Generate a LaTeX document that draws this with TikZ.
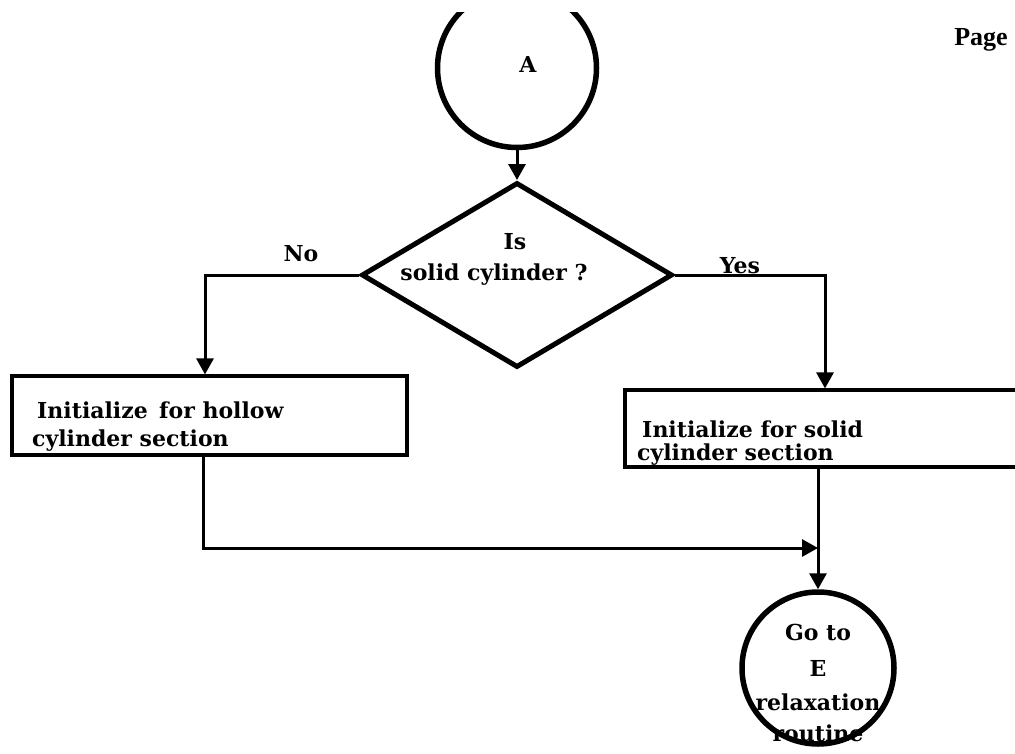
\documentclass[tikz,border=0pt]{standalone}
\usepackage{fontspec}
\setmainfont{DejaVu Serif}
\newfontfamily\pagefont{Liberation Serif}
\usetikzlibrary{shapes.geometric,arrows.meta}
\begin{document}
\begin{tikzpicture}[x=1pt,y=-1pt,
  every node/.style={font=\fontsize{22}{26}\selectfont\bfseries},
  ring/.style={draw,circle,line width=5.5pt,inner sep=0pt},
  decision/.style={draw,diamond,line width=5pt,inner sep=0pt},
  procbox/.style={draw,rectangle,line width=3.2pt,inner sep=0pt},
  txt/.style={inner sep=0pt,align=left},
  flow/.style={line width=3pt,-{Triangle[width=17pt,length=16pt]}}]
\useasboundingbox (0,0) rectangle (1015,753);
\clip (0,0) rectangle (1015,753);

% connector circle at the top, cut by the upper edge of the sheet
\begin{scope}
  \clip (0,12) rectangle (1015,753);
  \node[ring,minimum size=159pt] (A) at (517,68) {};
\end{scope}
\node[txt] (Alabel) at (528,64) {A};

% decision
\node[decision,minimum width=311pt,minimum height=185pt] (D) at (517,275) {};
\node[txt] (Dis) at (515,242) {Is};
\node[txt] (Dq) at (494,275) {solid cylinder ?};
\node[txt] (No) at (301,254) {No};
\node[txt] (Yes) at (740,266) {Yes};

% process boxes
\node[procbox,minimum width=395pt,minimum height=79pt] (Lbox) at (209.5,415.5) {};
\node[txt,anchor=west] (Ltext1) at (37,410) {Initialize\, for hollow};
\node[txt,anchor=west] (Ltext2) at (32,441) {cylinder section};
\node[procbox,minimum width=420pt,minimum height=77pt] (Rbox) at (835,428.5) {};
\node[txt,anchor=west] (Rtext1) at (642,429) {Initialize for solid};
\node[txt,anchor=west] (Rtext2) at (637,455) {cylinder section};

% terminal circle
\node[ring,minimum size=152pt] (E) at (818,668) {};
\node[txt] (Et1) at (818,632) {Go to};
\node[txt] (Et2) at (818,668) {E};
\node[txt] (Et3) at (818,702) {relaxation};
\node[txt] (Et4) at (818,733) {routine};

% page heading
\node[txt,font=\pagefont\fontsize{26}{30}\selectfont\bfseries] (Pg) at (981,40) {Page};

% x positions of the vertical runs
\coordinate (noX) at (205,0);
\coordinate (yesX) at (825,0);
\coordinate (lX) at (203,0);
\coordinate (eX) at (818,0);
\coordinate (join) at (818,548);

% connectors
\draw[flow] (A.south) -- (D.north);
\draw[flow] (D.west) -| (Lbox.north -| noX);
\draw[flow] (D.east) -| (Rbox.north -| yesX);
\draw[flow] (Lbox.south -| lX) |- (join);
\draw[flow] (Rbox.south -| eX) -- (E.north);
\end{tikzpicture}
\end{document}
